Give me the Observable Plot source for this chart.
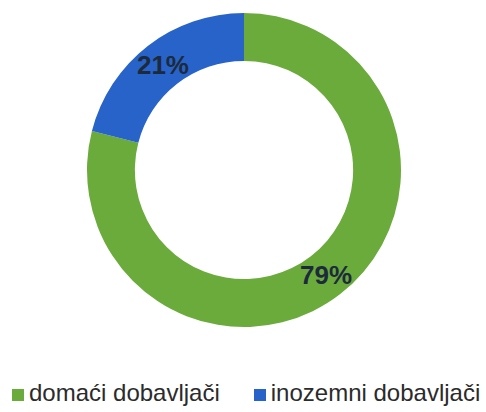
<!DOCTYPE html>
<html>
<head>
<meta charset="utf-8">
<script src="https://cdn.jsdelivr.net/npm/d3@7"></script>
<script src="https://cdn.jsdelivr.net/npm/@observablehq/plot@0.6"></script>
<style>
  html, body { margin: 0; padding: 0; background: #fff; }
  body { width: 486px; height: 412px; overflow: hidden; font-family: "Liberation Sans", Arial, sans-serif; }
  #legend { display: flex; position: absolute; left: 12px; top: 379px; font-size: 24px; color: #2b2b2b; white-space: nowrap; line-height: 28px; }
  .item { display: flex; align-items: center; }
  .item + .item { margin-left: 34px; }
  .sw { width: 12px; height: 12px; margin-right: 5px; margin-top: 3px; }
</style>
</head>
<body>
<div id="chart"></div>
<div id="legend"></div>
<script>
const categories = ["domaći dobavljači", "inozemni dobavljači"];
const shares = [79, 21];
const labels = ["79%", "21%"];
const colors = ["#6aab3c", "#2763c8"];

const data = categories.map((c, i) => ({category: c, value: shares[i], label: labels[i]}));
const pie = d3.pie().value(d => d.value).sort(null)(data);
const innerRatio = 0.695;
const labelRadius = (1 + innerRatio) / 2;
const labelData = pie.map(p => {
  const mid = (p.startAngle + p.endAngle) / 2;
  return {label: p.data.label, x: labelRadius * Math.sin(mid), y: labelRadius * Math.cos(mid)};
});

const color = Plot.scale({color: {type: "ordinal", domain: categories, range: colors}});

function donut(index, scales, values, dimensions) {
  const sx = scales && scales.x, sy = scales && scales.y;
  const cx = sx(0), cy = sy(0);
  const R = Math.abs(sx(1) - sx(0));
  const arc = d3.arc().outerRadius(R).innerRadius(R * innerRatio);
  const g = d3.create("svg:g").attr("transform", `translate(${cx},${cy})`);
  g.selectAll("path").data(pie).join("path")
    .attr("d", arc)
    .attr("fill", d => color.apply(d.data.category));
  return g.node();
}

const chart = Plot.plot({
  width: 486,
  height: 345,
  marginLeft: 87,
  marginRight: 85,
  marginTop: 13,
  marginBottom: 18,
  x: {domain: [-1, 1], axis: null},
  y: {domain: [-1, 1], axis: null},
  style: {background: "transparent"},
  marks: [
    donut,
    Plot.text(labelData, {x: "x", y: "y", text: "label", fontSize: 26, fontWeight: "bold", fill: "#1c2a3c", fontFamily: "Liberation Sans, Arial, sans-serif"})
  ]
});
document.getElementById("chart").appendChild(chart);

const legend = d3.select("#legend");
categories.forEach(c => {
  const it = legend.append("div").attr("class", "item");
  it.append("div").attr("class", "sw").style("background", color.apply(c));
  it.append("span").text(c);
});
</script>
</body>
</html>
